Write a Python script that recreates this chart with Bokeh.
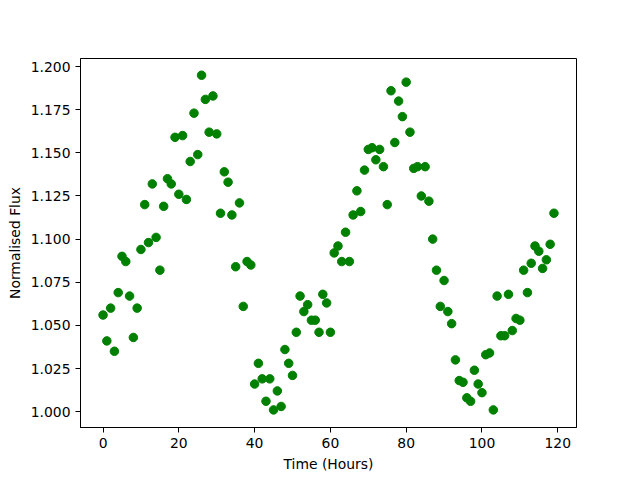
from bokeh.plotting import figure
from bokeh.models import FixedTicker, NumeralTickFormatter, Range1d, ColumnDataSource
from bokeh.embed import file_html
from bokeh.resources import INLINE

hours = list(range(120))
flux = [
    1.056, 1.041, 1.060, 1.035, 1.069, 1.090, 1.087, 1.067, 1.043, 1.060,
    1.094, 1.120, 1.098, 1.132, 1.101, 1.082, 1.119, 1.135, 1.132, 1.159,
    1.126, 1.160, 1.123, 1.145, 1.173, 1.149, 1.195, 1.181, 1.162, 1.183,
    1.161, 1.115, 1.139, 1.133, 1.114, 1.084, 1.121, 1.061, 1.087, 1.085,
    1.016, 1.028, 1.019, 1.006, 1.019, 1.001, 1.012, 1.003, 1.036, 1.028,
    1.021, 1.046, 1.067, 1.058, 1.062, 1.053, 1.053, 1.046, 1.068, 1.063,
    1.046, 1.092, 1.096, 1.087, 1.104, 1.087, 1.114, 1.128, 1.116, 1.140,
    1.152, 1.153, 1.146, 1.152, 1.142, 1.120, 1.186, 1.156, 1.180, 1.171,
    1.191, 1.162, 1.141, 1.142, 1.125, 1.142, 1.122, 1.100, 1.082, 1.061,
    1.076, 1.058, 1.051, 1.030, 1.018, 1.017, 1.008, 1.006, 1.024, 1.016,
    1.011, 1.033, 1.034, 1.001, 1.067, 1.044, 1.044, 1.068, 1.047, 1.054,
    1.053, 1.082, 1.069, 1.086, 1.096, 1.093, 1.083, 1.088, 1.097, 1.115,
]
x_ticks = [0, 20, 40, 60, 80, 100, 120]
y_ticks = [1.000, 1.025, 1.050, 1.075, 1.100, 1.125, 1.150, 1.175, 1.200]

src = ColumnDataSource(data=dict(x=hours, y=flux))

p = figure(width=640, height=480, output_backend="svg", toolbar_location=None,
           x_range=Range1d(-5.95, 124.95), y_range=Range1d(0.9908, 1.2047),
           min_border_left=80, min_border_right=64, min_border_top=58, min_border_bottom=53)

p.scatter("x", "y", source=src, size=8.5, color="green", line_color="green")

p.xgrid.visible = False
p.ygrid.visible = False
p.outline_line_color = "black"
p.outline_line_width = 1
p.outline_line_alpha = 1

p.xaxis.ticker = FixedTicker(ticks=x_ticks)
p.yaxis.ticker = FixedTicker(ticks=y_ticks)
p.yaxis.formatter = NumeralTickFormatter(format="0.000")
p.xaxis.axis_label = "Time (Hours)"
p.yaxis.axis_label = "Normalised Flux"

for ax in (p.xaxis, p.yaxis):
    ax.axis_line_color = "black"
    ax.major_tick_line_color = "black"
    ax.major_tick_out = 5
    ax.major_tick_in = 0
    ax.minor_tick_line_color = None
    ax.major_label_text_font = "DejaVu Sans"
    ax.major_label_text_font_size = "13.9px"
    ax.major_label_text_color = "black"
    ax.axis_label_text_font = "DejaVu Sans"
    ax.axis_label_text_font_size = "13.9px"
    ax.axis_label_text_font_style = "normal"
    ax.axis_label_text_color = "black"
    ax.major_label_standoff = 5
    ax.axis_label_standoff = 5

p.background_fill_color = "white"
p.border_fill_color = "white"

open("out.html", "w").write(file_html(p, INLINE))
